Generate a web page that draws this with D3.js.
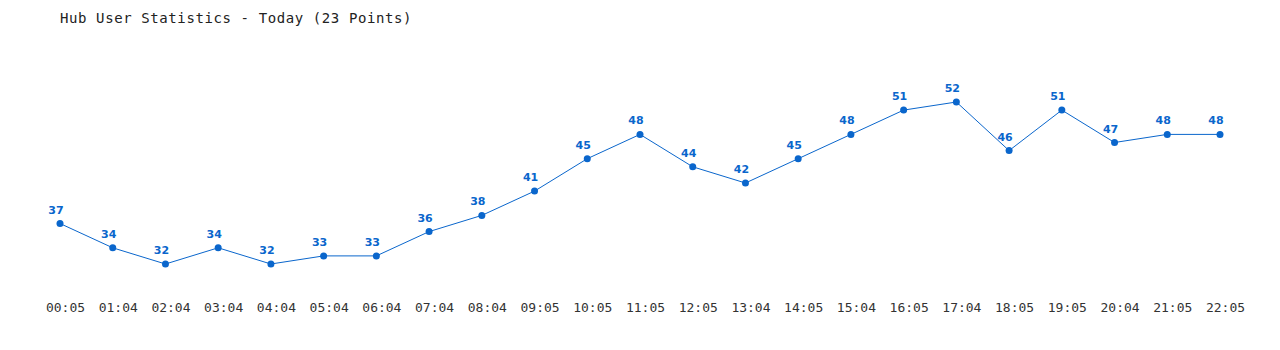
<!DOCTYPE html>
<html>
<head>
<meta charset="utf-8">
<script src="https://cdn.jsdelivr.net/npm/d3@7"></script>
<style>
  body { margin: 0; background: #fff; }
  .axis text { font-family: "DejaVu Sans Mono", monospace; font-size: 13px; fill: #333; }
  .axis path, .axis line { display: none; }
</style>
</head>
<body>
<div id="chart"></div>
<script>
// data
var times = ["00:05","01:04","02:04","03:04","04:04","05:04","06:04","07:04","08:04","09:05","10:05","11:05",
             "12:05","13:04","14:05","15:04","16:05","17:04","18:05","19:05","20:04","21:05","22:05"];
var users = [37,34,32,34,32,33,33,36,38,41,45,48,44,42,45,48,51,52,46,51,47,48,48];

var width = 1280, height = 350;
var blue = "#0a66cc";

var svg = d3.select("#chart").append("svg")
    .attr("width", width)
    .attr("height", height);

// title
svg.append("text")
    .attr("x", 60)
    .attr("y", 23)
    .style("font-family", "DejaVu Sans Mono, monospace")
    .style("font-size", "14px")
    .style("letter-spacing", "0.6px")
    .style("fill", "#222")
    .text("Hub User Statistics - Today (" + users.length + " Points)");

var x = d3.scalePoint().domain(times).range([60, 1220]);
var y = d3.scaleLinear().domain([32, 52]).range([264, 102]);

var data = times.map(function(t, i) { return {t: t, v: users[i]}; });

// x axis
var ax = svg.append("g")
    .attr("class", "axis")
    .attr("transform", "translate(5,300)")
    .call(d3.axisBottom(x).tickSize(0).tickPadding(0));
ax.selectAll("text").attr("dy", "0.9em");

// line
var line = d3.line()
    .x(function(d) { return x(d.t); })
    .y(function(d) { return y(d.v); });

svg.append("path")
    .datum(data)
    .attr("d", line)
    .attr("fill", "none")
    .attr("stroke", blue)
    .attr("stroke-width", 1);

// points
svg.selectAll("circle.pt")
    .data(data)
    .enter().append("circle")
    .attr("class", "pt")
    .attr("cx", function(d) { return x(d.t); })
    .attr("cy", function(d) { return y(d.v); })
    .attr("r", 3.5)
    .attr("fill", blue);

// value labels
svg.selectAll("text.lbl")
    .data(data)
    .enter().append("text")
    .attr("class", "lbl")
    .attr("x", function(d) { return x(d.t) - 4; })
    .attr("y", function(d) { return y(d.v) - 10; })
    .attr("text-anchor", "middle")
    .style("font-family", "DejaVu Sans, sans-serif")
    .style("font-weight", "bold")
    .style("font-size", "11px")
    .style("fill", blue)
    .text(function(d) { return d.v; });
</script>
</body>
</html>
